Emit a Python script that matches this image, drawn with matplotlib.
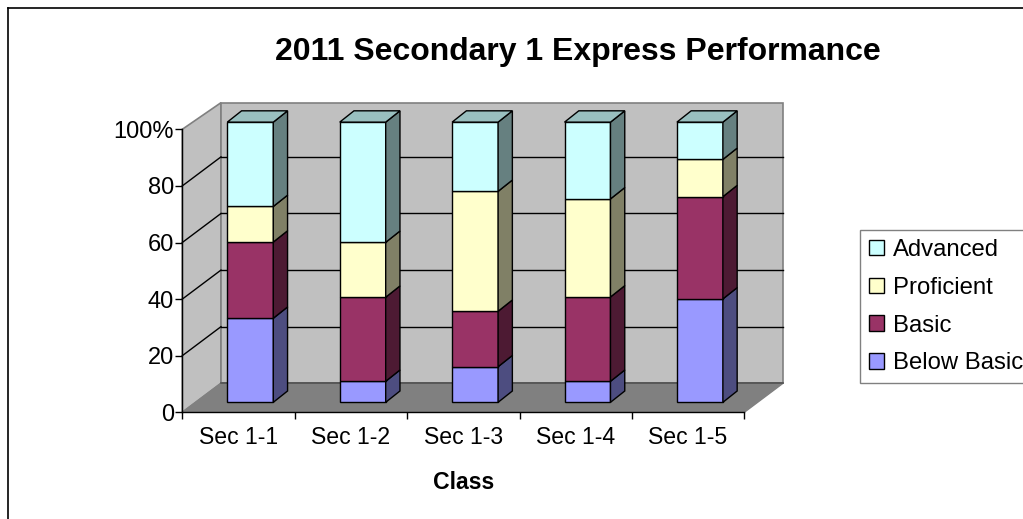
import matplotlib
matplotlib.use("Agg")
import matplotlib.pyplot as plt
from matplotlib.lines import Line2D
from matplotlib.patches import Patch, Polygon

plt.rcParams['font.family'] = ['Liberation Sans', 'DejaVu Sans']

classes = ["Sec 1-1", "Sec 1-2", "Sec 1-3", "Sec 1-4", "Sec 1-5"]
below_basic = [30, 7.5, 12.7, 7.5, 36.9]
basic = [27.2, 30, 19.8, 30.1, 36.5]
proficient = [12.7, 19.6, 42.8, 35, 13.3]
advanced = [30.1, 42.9, 24.7, 27.4, 13.3]
series_names = ["Below Basic", "Basic", "Proficient", "Advanced"]
series_values = [below_basic, basic, proficient, advanced]
colors = ["#9999FF", "#993366", "#FFFFCC", "#CCFFFF"]
yticks = [0, 20, 40, 60, 80, 100]
ylabels = ["0", "20", "40", "60", "80", "100%"]

W, H = 1023, 519
# depth of the box, in data units
DX = 0.344
DY = 10.25
WALL_TOP = 109.4
# bar shape
BAR_W = 0.409
BAR_CENTER = 0.605
BAR_BASE = 3.53
BAR_SCALE = 0.99
BAR_DX = 0.127
BAR_DY = 4.0


def shade(c, f):
    rgb = matplotlib.colors.to_rgb(c)
    return tuple(v * f for v in rgb)


def poly(ax, pts, fc, ec="black", lw=1.0, z=3):
    ax.add_patch(Polygon(pts, closed=True, facecolor=fc, edgecolor=ec, linewidth=lw,
                         clip_on=False, zorder=z, joinstyle="miter"))


fig = plt.figure(figsize=(W / 100, H / 100), dpi=100)
ax = fig.add_axes([182.3 / W, 1 - 412.3 / H, 562 / W, 283 / H])
n = len(classes)
ax.set_xlim(0, n)
ax.set_ylim(0, 100)
ax.patch.set_visible(False)

# walls and floor
poly(ax, [(0, 0), (DX, DY), (DX, WALL_TOP), (0, 100)], "#C0C0C0", "#808080", 1.2, 1)
poly(ax, [(DX, DY), (DX, WALL_TOP), (n + DX, WALL_TOP), (n + DX, DY)], "#C0C0C0", "#808080", 1.2, 1)
poly(ax, [(0, 0), (DX, DY), (n + DX, DY), (n, 0)], "#808080", "#808080", 1.0, 1)

# gridlines on side and back wall
for t in yticks[1:-1]:
    ax.plot([0, DX], [t, t + DY], color="black", lw=1.0, clip_on=False, zorder=2)
    ax.plot([DX, n + DX], [t + DY, t + DY], color="black", lw=1.0, clip_on=False, zorder=2)
ax.plot([DX, n + DX], [DY, DY], color="#505050", lw=1.2, clip_on=False, zorder=2)

# bars, bottom to top
for i in range(n):
    left = i + BAR_CENTER - BAR_W / 2
    right = left + BAR_W
    bottom = BAR_BASE
    for vals, c in zip(series_values, colors):
        top = bottom + vals[i] * BAR_SCALE
        poly(ax, [(left, bottom), (right, bottom), (right, top), (left, top)], c)
        poly(ax, [(right, bottom), (right + BAR_DX, bottom + BAR_DY),
                  (right + BAR_DX, top + BAR_DY), (right, top)], shade(c, 0.5))
        bottom = top
    poly(ax, [(left, bottom), (right, bottom), (right + BAR_DX, bottom + BAR_DY),
              (left + BAR_DX, bottom + BAR_DY)], shade(colors[-1], 0.75))

for s in ["top", "right"]:
    ax.spines[s].set_visible(False)
for s in ["left", "bottom"]:
    ax.spines[s].set_linewidth(1.0)
    ax.spines[s].set_zorder(5)
ax.set_yticks(yticks, ylabels)
ax.set_xticks(range(n + 1), [""] * (n + 1))
ax.set_xticks([i + 0.5 for i in range(n)], classes, minor=True)
ax.tick_params(axis="y", length=5, width=1, labelsize=17, pad=0.8)
ax.tick_params(axis="x", which="major", length=5, width=1)
ax.tick_params(axis="x", which="minor", length=0, labelsize=16.6, pad=10)
ax.set_xlabel("Class", fontsize=16.6, fontweight="bold", labelpad=16)

fig.text(578 / W, 1 - 52 / H, "2011 Secondary 1 Express Performance",
         fontsize=23, fontweight="bold", ha="center", va="center")

handles = [Patch(facecolor=c, edgecolor="black", linewidth=1.0) for c in colors]
leg = fig.legend(handles[::-1], series_names[::-1], loc="upper left",
                 bbox_to_anchor=(860 / W, 1 - 230 / H), bbox_transform=fig.transFigure,
                 borderaxespad=0, fontsize=17.2, frameon=True, fancybox=False,
                 edgecolor="#808080", framealpha=1, handlelength=0.63, handleheight=0.63,
                 handletextpad=0.38, labelspacing=0.66, borderpad=0.38)
leg.get_frame().set_linewidth(1.0)

# chart area border, only top and left are in view
fig.add_artist(Line2D([8 / W, 8 / W], [0, 1 - 8 / H], color="black", lw=1.2))
fig.add_artist(Line2D([8 / W, 1], [1 - 8 / H, 1 - 8 / H], color="black", lw=1.2))

fig.savefig("out.png", dpi=100)
